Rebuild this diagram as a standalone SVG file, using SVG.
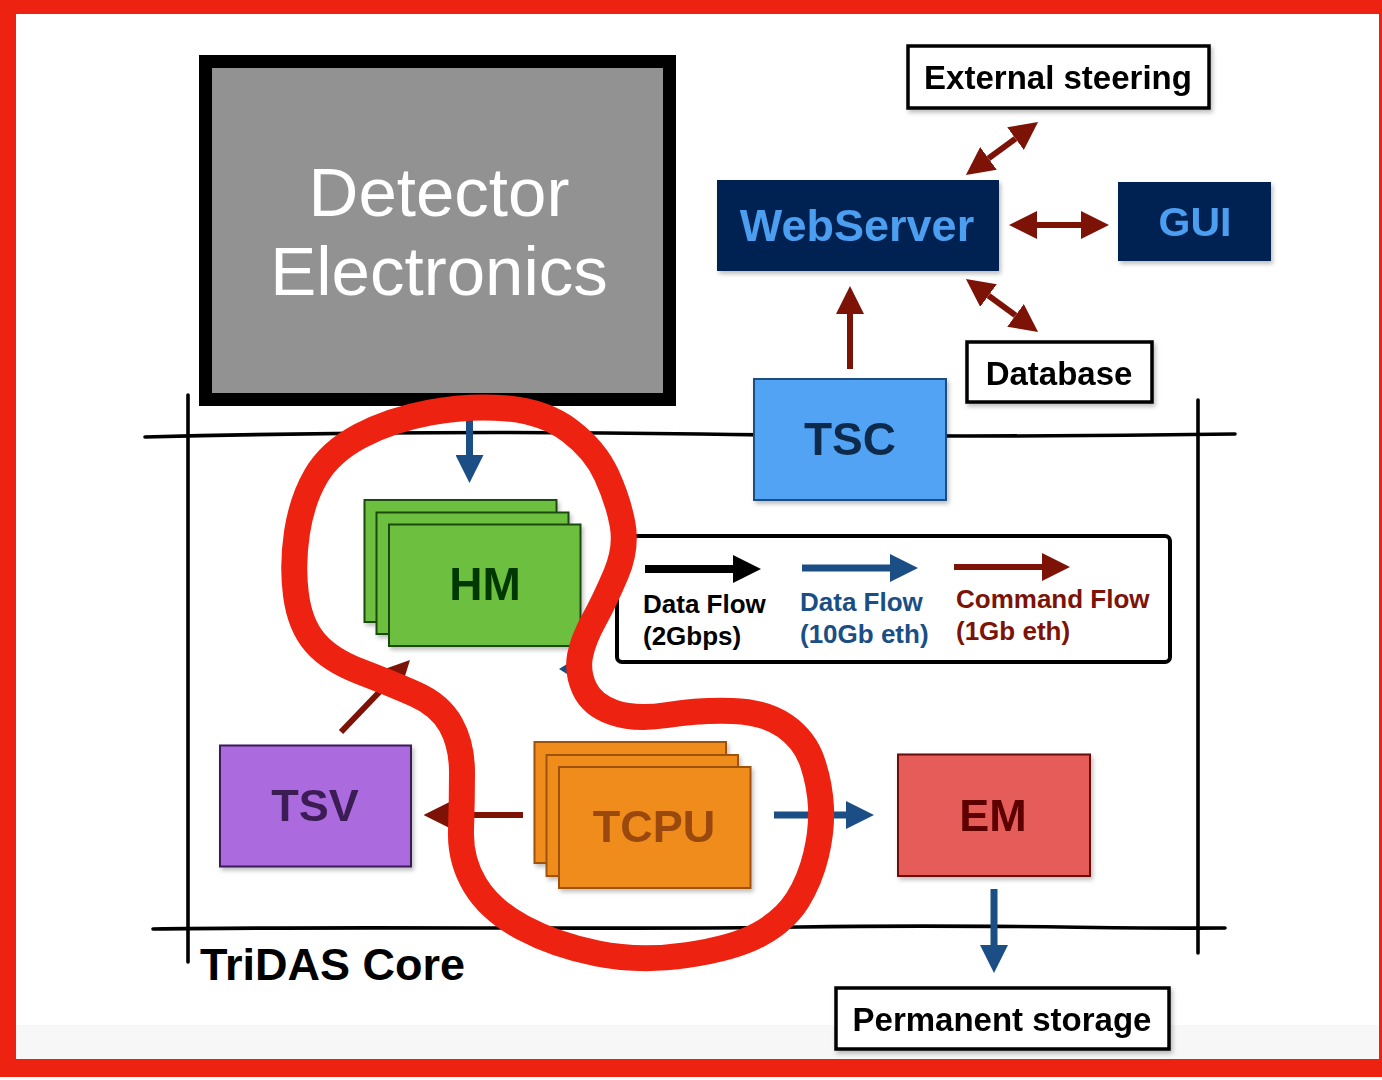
<svg xmlns="http://www.w3.org/2000/svg" width="1382" height="1080" viewBox="0 0 1382 1080">
<defs>
<style>
.t{font-family:"Liberation Sans",Arial,sans-serif;font-weight:bold;text-anchor:middle}
.box{fill:#fff;stroke:#000;stroke-width:3.5}
.sk{fill:none;stroke:#000;stroke-width:3.6;stroke-linecap:round}
.hm{fill:#6dbf40;stroke:#1e4a0c;stroke-width:2}
.tc{fill:#ef8c1b;stroke:#9e520c;stroke-width:2}
.red{stroke:#7d1206;stroke-width:6;fill:none}
.blue{stroke:#1a4e85;stroke-width:7;fill:none}
.blk{stroke:#000;stroke-width:8;fill:none}
</style>
<filter id="sh" x="-10%" y="-10%" width="130%" height="130%">
<feDropShadow dx="2" dy="3" stdDeviation="2" flood-color="#000" flood-opacity="0.25"/>
</filter>
<marker id="mr" markerUnits="userSpaceOnUse" viewBox="0 0 28 28" markerWidth="28" markerHeight="28" refX="0" refY="14" orient="auto-start-reverse"><path d="M0 0L28 14L0 28Z" fill="#7d1206"/></marker>
<marker id="mb" markerUnits="userSpaceOnUse" viewBox="0 0 28 28" markerWidth="28" markerHeight="28" refX="0" refY="14" orient="auto-start-reverse"><path d="M0 0L28 14L0 28Z" fill="#1a4e85"/></marker>
<marker id="mk" markerUnits="userSpaceOnUse" viewBox="0 0 28 28" markerWidth="28" markerHeight="28" refX="0" refY="14" orient="auto-start-reverse"><path d="M0 0L28 14L0 28Z" fill="#000"/></marker>
</defs>
<rect x="0" y="0" width="1382" height="1080" fill="#fff"/>
<rect x="16" y="1025" width="1364" height="35" fill="#f7f7f7"/>

<g id="frame-lines">
<path class="sk" d="M145 437 C300 433 500 431 700 434 S1100 436 1235 434"/>
<path class="sk" d="M153 929 C350 926 600 930 800 927 S1100 929 1225 928"/>
<path class="sk" d="M188 395 C189 550 187 750 188 962"/>
<path class="sk" d="M1198 400 C1197 600 1199 800 1198 953"/>
</g>

<g id="detector">
<rect x="205.5" y="61.5" width="464" height="338" fill="#929292" stroke="#000" stroke-width="13"/>
<text x="439" y="216" font-family="Liberation Sans, Arial, sans-serif" font-size="69" fill="#fff" text-anchor="middle">Detector</text>
<text x="439" y="295" font-family="Liberation Sans, Arial, sans-serif" font-size="69" fill="#fff" text-anchor="middle">Electronics</text>
</g>

<g id="external-steering" filter="url(#sh)">
<rect class="box" x="908" y="46" width="301" height="62"/>
<text class="t" x="1058" y="89" font-size="33">External steering</text>
</g>

<g id="webserver" filter="url(#sh)">
<rect x="717" y="180" width="282" height="91" fill="#022352"/>
<text class="t" x="857" y="241" font-size="45" fill="#4b9ef0">WebServer</text>
</g>

<g id="gui" filter="url(#sh)">
<rect x="1118" y="182" width="153" height="79" fill="#022352"/>
<text class="t" x="1195" y="236" font-size="41" fill="#4b9ef0">GUI</text>
</g>

<g id="database" filter="url(#sh)">
<rect class="box" x="967" y="342" width="185" height="60"/>
<text class="t" x="1059" y="385" font-size="33">Database</text>
</g>

<g id="tsc" filter="url(#sh)">
<rect x="754" y="379" width="192" height="121" fill="#52a3f4" stroke="#1f4f80" stroke-width="2"/>
<text class="t" x="850" y="455" font-size="46" fill="#0c2a4c">TSC</text>
</g>

<g id="hm" filter="url(#sh)">
<rect class="hm" x="364.5" y="500" width="192" height="122"/>
<rect class="hm" x="376.5" y="512.5" width="192" height="121.5"/>
<rect class="hm" x="389" y="524.5" width="191.5" height="121.5"/>
<text class="t" x="485" y="600" font-size="46" fill="#003800">HM</text>
</g>

<g id="legend">
<rect x="617" y="536" width="553" height="126" rx="5" fill="#fff" stroke="#000" stroke-width="4"/>
<text class="t" x="643" y="613" font-size="26" style="text-anchor:start">Data Flow</text>
<text class="t" x="643" y="645" font-size="26" style="text-anchor:start">(2Gbps)</text>
<text class="t" x="800" y="611" font-size="26" fill="#1a4e85" style="text-anchor:start">Data Flow</text>
<text class="t" x="800" y="643" font-size="26" fill="#1a4e85" style="text-anchor:start">(10Gb eth)</text>
<text class="t" x="956" y="608" font-size="26" fill="#7d1206" style="text-anchor:start">Command Flow</text>
<text class="t" x="956" y="640" font-size="26" fill="#7d1206" style="text-anchor:start">(1Gb eth)</text>
</g>

<g id="tsv" filter="url(#sh)">
<rect x="220" y="745.5" width="191" height="121" fill="#ab6bde" stroke="#3b1d56" stroke-width="2"/>
<text class="t" x="315" y="821" font-size="45" fill="#3b1c55">TSV</text>
</g>

<g id="tcpu" filter="url(#sh)">
<rect class="tc" x="534.5" y="742" width="191.5" height="121"/>
<rect class="tc" x="546.5" y="755" width="191.5" height="121"/>
<rect class="tc" x="559" y="767" width="191.5" height="121"/>
<text class="t" x="654" y="842" font-size="45" fill="#994a07">TCPU</text>
</g>

<g id="em" filter="url(#sh)">
<rect x="898" y="754.5" width="192" height="121.5" fill="#e55b58" stroke="#6b0b0b" stroke-width="2"/>
<text class="t" x="993" y="831" font-size="45" fill="#5b0000">EM</text>
</g>

<g id="permanent-storage" filter="url(#sh)">
<rect class="box" x="836" y="988" width="333" height="61"/>
<text class="t" x="1002" y="1031" font-size="33">Permanent storage</text>
</g>

<g id="tridas-label">
<text class="t" x="200" y="980" font-size="45" style="text-anchor:start">TriDAS Core</text>
</g>

<g id="connectors">
<line class="blue" x1="469.5" y1="406" x2="469.5" y2="455" marker-end="url(#mb)"/>
<line class="red" x1="850" y1="369" x2="850" y2="314" marker-end="url(#mr)"/>
<line class="red" x1="1037" y1="225" x2="1081" y2="225" marker-start="url(#mr)" marker-end="url(#mr)"/>
<line class="red" x1="988.5" y1="158.4" x2="1015.5" y2="138.6" marker-start="url(#mr)" marker-end="url(#mr)"/>
<line class="red" x1="988.5" y1="295.6" x2="1015.5" y2="315.4" marker-start="url(#mr)" marker-end="url(#mr)"/>
<line class="red" x1="523" y1="815" x2="451.5" y2="815" marker-end="url(#mr)"/>
<line class="blue" x1="774" y1="815" x2="846" y2="815" marker-end="url(#mb)"/>
<line class="blue" x1="994" y1="889" x2="994" y2="945" marker-end="url(#mb)"/>
<line class="red" x1="341" y1="732" x2="390.6" y2="680.2" marker-end="url(#mr)"/>
<polygon points="559,669 575,659 575,679" fill="#1a4e85"/>
<line class="blk" x1="645" y1="569" x2="733" y2="569" marker-end="url(#mk)"/>
<line class="blue" x1="802" y1="568" x2="890" y2="568" stroke-width="8" marker-end="url(#mb)"/>
<line class="red" x1="954" y1="567" x2="1042" y2="567" stroke-width="8" marker-end="url(#mr)"/>
</g>

<g id="red-loop">
<path d="M 507.5 408.5 Q 545 412 570 431 Q 595 450 606.5 475 Q 618 500 622.5 524 Q 627 548 616 574 Q 605 600 594 620 Q 583 640 580 656 Q 577 672 584.5 688.5 Q 592 705 613.5 712.5 Q 635 720 667.5 715 Q 700 710 732.5 711 Q 765 712 785 726 Q 805 740 812.5 762.5 Q 820 785 821 807.5 Q 822 830 816 855 Q 810 880 797.5 900 Q 785 920 760 934 Q 735 948 687.5 955 Q 640 962 597.5 953.5 Q 555 945 522.5 927.5 Q 490 910 475 885 Q 460 860 461 830 Q 462 800 462 772.5 Q 462 745 451 725 Q 440 705 415 694 Q 390 683 360 671.5 Q 330 660 315 642.5 Q 300 625 296 595 Q 292 565 297 532.5 Q 302 500 316 476 Q 330 452 360 436 Q 390 420 430 412.5 Q 470 405 507.5 408.5 Z" fill="none" stroke="#ee2211" stroke-width="26" stroke-linejoin="round"/>
</g>

<g id="border">
<rect x="0" y="0" width="1382" height="14" fill="#ee2211"/>
<rect x="0" y="0" width="16" height="1077" fill="#ee2211"/>
<rect x="0" y="1059" width="1382" height="18" fill="#ee2211"/>
<rect x="1379" y="0" width="3" height="1077" fill="#ee2211"/>
</g>
</svg>
